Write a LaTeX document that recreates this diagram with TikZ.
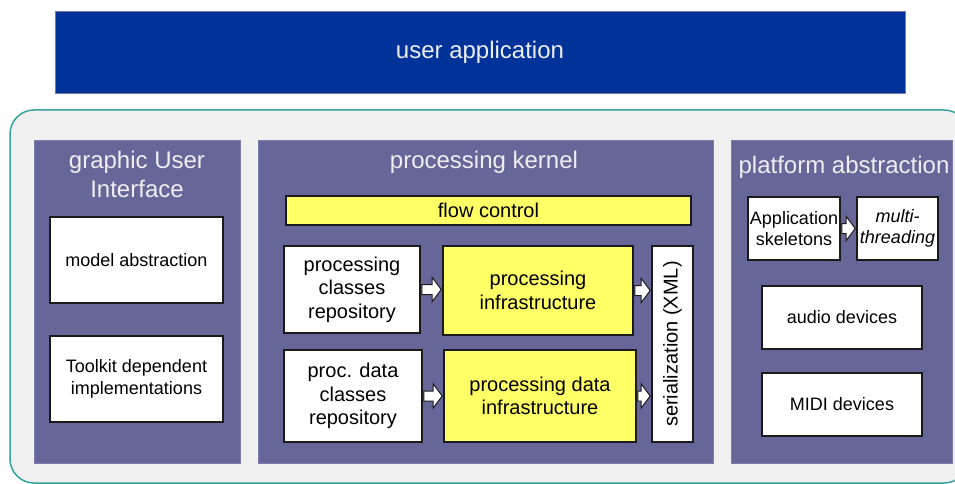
\documentclass[tikz,border=0pt]{standalone}
\usepackage{fontspec}
\setmainfont{Liberation Sans}
\usetikzlibrary{calc}

\definecolor{appblue}{HTML}{003399}
\definecolor{appedge}{HTML}{7A7AA0}
\definecolor{panelpurple}{HTML}{666699}
\definecolor{frameteal}{HTML}{35A29B}
\definecolor{framefill}{HTML}{F0F0F0}
\definecolor{flowyellow}{HTML}{FFFF66}
\definecolor{titlegrey}{HTML}{EEEEF2}
\definecolor{boxline}{HTML}{1A1A1A}

\tikzset{every picture/.style={line width=0.75pt}}
\tikzset{
  panel/.style={draw=panelpurple!85!white, fill=panelpurple, inner sep=0pt},
  whitebox/.style={draw=boxline, fill=white, line width=1.6pt, align=center, inner sep=1pt, font=\fontsize{18}{21.5}\selectfont},
  kernelbox/.style={whitebox, font=\fontsize{20}{23.5}\selectfont},
  yellowbox/.style={kernelbox, fill=flowyellow},
  paneltitle/.style={text=titlegrey, align=center, inner sep=0pt, font=\fontsize{24}{29}\selectfont},
  blockarrow/.style={draw=boxline, fill=white, line width=1pt, line join=miter},
}

% white block arrow from one anchor to another, at the height of the first
\newcommand{\blockarrow}[2]{%
  \path[blockarrow] let \p1=(#1), \p2=(#2) in
    (\x1+1pt,\y1+5pt) -- (\x2-10pt,\y1+5pt) -- (\x2-10pt,\y1+12pt) -- (\x2-1pt,\y1)
    -- (\x2-10pt,\y1-12pt) -- (\x2-10pt,\y1-5pt) -- (\x1+1pt,\y1-5pt) -- cycle;}

\begin{document}
\begin{tikzpicture}[x=1pt,y=-1pt]
\useasboundingbox (0,0) rectangle (955,484);

%Shape: user application bar
\node[draw=appedge, fill=appblue, minimum width=850, minimum height=82, text=titlegrey, font=\fontsize{24}{29}\selectfont] (userapp) at (480,52) {user application};

%Shape: outer frame
\draw[draw=frameteal, fill=framefill, line width=1.5pt, rounded corners=24] (10,110) rectangle (968,483);

%Shape: panels
\node[panel, minimum width=206, minimum height=323] (gui) at (137,301.5) {};
\node[panel, minimum width=455, minimum height=323] (kernel) at (485.5,301.5) {};
\node[panel, minimum width=221, minimum height=323] (platform) at (841.5,301.5) {};

% Text Node
\node[paneltitle] (guititle) at (137,174) {graphic User\\Interface};
\node[paneltitle, anchor=base] (kerneltitle) at (484,168) {processing kernel};
\node[paneltitle, anchor=base] (platformtitle) at (844,173) {platform abstraction};

%Shape: graphic user interface boxes
\node[whitebox, minimum width=173, minimum height=86] (model) at (136.5,260) {model abstraction};
\node[whitebox, minimum width=173, minimum height=86] (toolkit) at (136.5,379) {Toolkit dependent\\implementations};

%Shape: processing kernel boxes
\node[yellowbox, minimum width=405, minimum height=29] (flow) at (488.5,210.5) {flow control};
\node[kernelbox, minimum width=136, minimum height=87] (proc) at (352,289.5) {processing\\classes\\repository};
\node[yellowbox, minimum width=190, minimum height=89] (procinfra) at (538,290.5) {processing\\infrastructure};
\node[kernelbox, minimum width=138, minimum height=92] (data) at (353,396) {proc. data\\classes\\repository};
\node[yellowbox, minimum width=192, minimum height=92] (datainfra) at (540,396) {processing data\\infrastructure};
\node[kernelbox, rotate=90, minimum width=196, minimum height=41] (serial) at (672.5,344) {serialization (XML)};

%Shape: platform abstraction boxes
\node[whitebox, minimum width=92, minimum height=63] (appskel) at (794,228.5) {Application\\skeletons};
\node[whitebox, minimum width=81, minimum height=63, font=\fontsize{18}{21.5}\selectfont\itshape] (multi) at (897.5,228.5) {multi-\\threading};
\node[whitebox, minimum width=160, minimum height=63] (audio) at (842,317.5) {audio devices};
\node[whitebox, minimum width=160, minimum height=63] (midi) at (842,404.5) {MIDI devices};

%Shape: block arrows
\blockarrow{proc.east}{procinfra.west}
\blockarrow{data.east}{datainfra.west}
\blockarrow{procinfra.east}{serial.north}
\blockarrow{datainfra.east}{serial.north}
\blockarrow{appskel.east}{multi.west}

\end{tikzpicture}
\end{document}
